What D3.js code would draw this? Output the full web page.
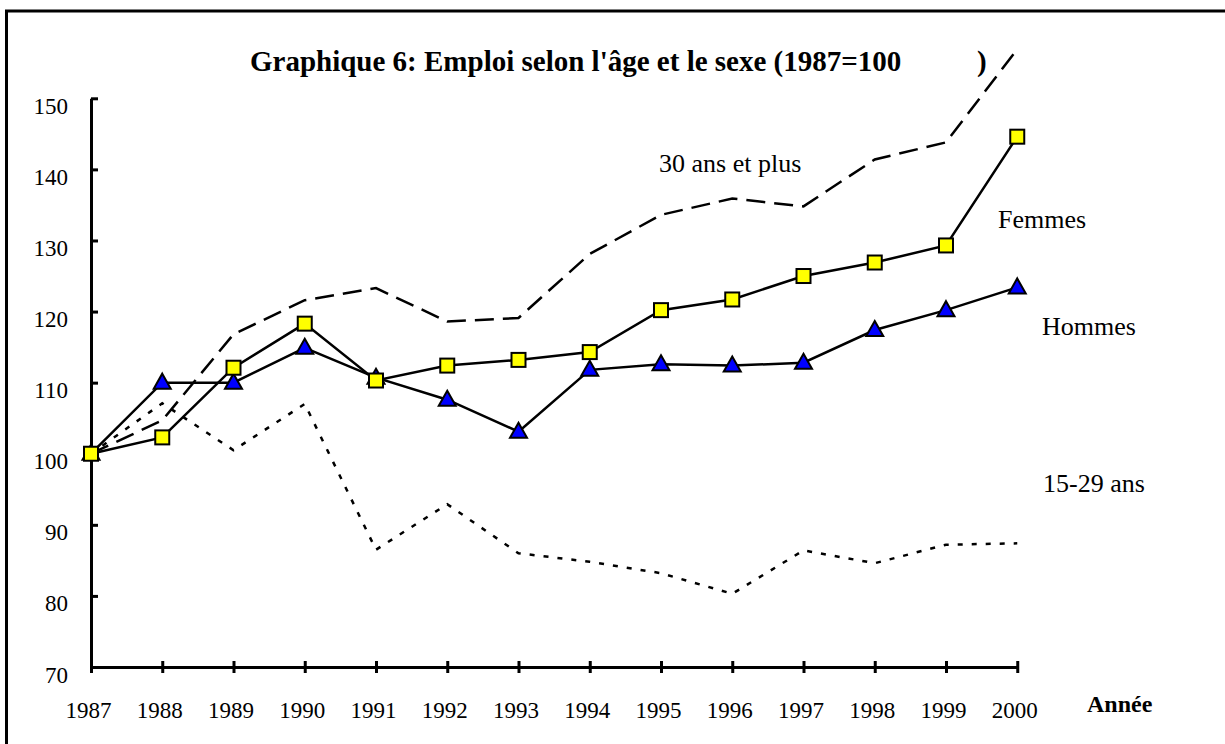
<!DOCTYPE html>
<html>
<head>
<meta charset="utf-8">
<script src="https://cdn.jsdelivr.net/npm/d3@7"></script>
<style>
  html, body { margin: 0; padding: 0; background: #fff; }
  svg { display: block; font-family: 'Liberation Serif', 'Times New Roman', serif; }
  svg text { font-family: 'Liberation Serif', 'Times New Roman', serif; }
</style>
</head>
<body>
<div id="chart"></div>
<script>
// years on the x axis
const years = [1987, 1988, 1989, 1990, 1991, 1992, 1993, 1994, 1995, 1996, 1997, 1998, 1999, 2000];
// index values, 1987 = 100
const femmes  = [100, 102.3, 112.1, 118.3, 110.3, 112.4, 113.2, 114.3, 120.2, 121.7, 125.0, 126.9, 129.3, 144.6];
const hommes  = [100, 110.0, 110.0, 114.9, 110.7, 107.6, 103.1, 111.8, 112.6, 112.4, 112.8, 117.4, 120.2, 123.4];
const plus30  = [100, 104.7, 116.8, 121.6, 123.3, 118.6, 119.1, 128.1, 133.6, 135.9, 134.8, 141.4, 143.8, 156.9];
const age1529 = [100, 107.1, 100.5, 107.0, 86.5, 92.9, 86.0, 84.8, 83.2, 80.3, 86.4, 84.6, 87.2, 87.4];
const yTicks = [70, 80, 90, 100, 110, 120, 130, 140, 150];

const W = 1225, H = 744;
const svg = d3.select('#chart').append('svg').attr('width', W).attr('height', H);

// frame (runs off the right and bottom edges)
svg.append('rect').attr('x', 6.5).attr('y', 11).attr('width', 1400).attr('height', 900)
  .attr('fill', 'none').attr('stroke', '#000').attr('stroke-width', 3);

const x = d3.scaleLinear().domain([1987, 2000]).range([91, 1017.25]);
const y = d3.scaleLinear().domain([70, 150]).range([667, 98.3]);

// title
svg.append('text').attr('x', 250).attr('y', 71).attr('font-size', 29).attr('font-weight', 'bold')
  .text("Graphique 6: Emploi selon l'âge et le sexe (1987=100");
svg.append('text').attr('x', 977).attr('y', 71).attr('font-size', 29).attr('font-weight', 'bold').text(')');

// y axis, ticks pointing inward
const gy = svg.append('g').attr('transform', 'translate(91,0)')
  .call(d3.axisLeft(y).tickValues(yTicks).tickSizeInner(-7).tickSizeOuter(0).tickFormat(d3.format('d')))
  .attr('font-family', null).attr('font-size', 23);
gy.select('.domain').attr('stroke-width', 3);
gy.selectAll('.tick line').attr('stroke-width', 3);
gy.selectAll('.tick text').attr('x', -23).attr('dy', 15).attr('fill', '#000');

// x axis, ticks crossing the line
const gx = svg.append('g').attr('transform', 'translate(0,667)')
  .call(d3.axisBottom(x).tickValues(years).tickSizeOuter(0).tickFormat(d3.format('d')))
  .attr('font-family', null).attr('font-size', 23);
gx.select('.domain').attr('stroke-width', 3);
gx.selectAll('.tick line').attr('y1', -6).attr('y2', 6).attr('stroke-width', 3);
gx.selectAll('.tick text').attr('y', 51).attr('dy', 0).attr('dx', -3).attr('fill', '#000');

svg.append('text').attr('x', 1087).attr('y', 712).attr('font-size', 24).attr('font-weight', 'bold').text('Année');

const line = d3.line().x((d, i) => x(years[i])).y(d => y(d));

svg.append('path').datum(age1529).attr('d', line).attr('fill', 'none')
  .attr('stroke', '#000').attr('stroke-width', 2.5).attr('stroke-dasharray', '5,9');
svg.append('path').datum(plus30).attr('d', line).attr('fill', 'none')
  .attr('stroke', '#000').attr('stroke-width', 2.5).attr('stroke-dasharray', '19,9');
svg.append('path').datum(hommes).attr('d', line).attr('fill', 'none')
  .attr('stroke', '#000').attr('stroke-width', 2.5);
svg.append('path').datum(femmes).attr('d', line).attr('fill', 'none')
  .attr('stroke', '#000').attr('stroke-width', 2.5);

// markers
svg.selectAll('.tri').data(hommes).join('path').attr('class', 'tri')
  .attr('transform', (d, i) => `translate(${x(years[i])},${y(d)})`)
  .attr('d', 'M0,-9L8.5,6L-8.5,6Z')
  .attr('fill', '#0000ff').attr('stroke', '#000').attr('stroke-width', 2);
svg.selectAll('.sq').data(femmes).join('rect').attr('class', 'sq')
  .attr('x', (d, i) => x(years[i]) - 7).attr('y', d => y(d) - 7)
  .attr('width', 14).attr('height', 14)
  .attr('fill', '#ffff00').attr('stroke', '#000').attr('stroke-width', 2);

// series labels
const labels = [
  { t: '30 ans et plus', x: 659, y: 172 },
  { t: 'Femmes', x: 998, y: 228 },
  { t: 'Hommes', x: 1042, y: 335 },
  { t: '15-29 ans', x: 1043, y: 492 },
];
svg.selectAll('.lab').data(labels).join('text').attr('class', 'lab')
  .attr('x', d => d.x).attr('y', d => d.y).attr('font-size', 26).text(d => d.t);
</script>
</body>
</html>
